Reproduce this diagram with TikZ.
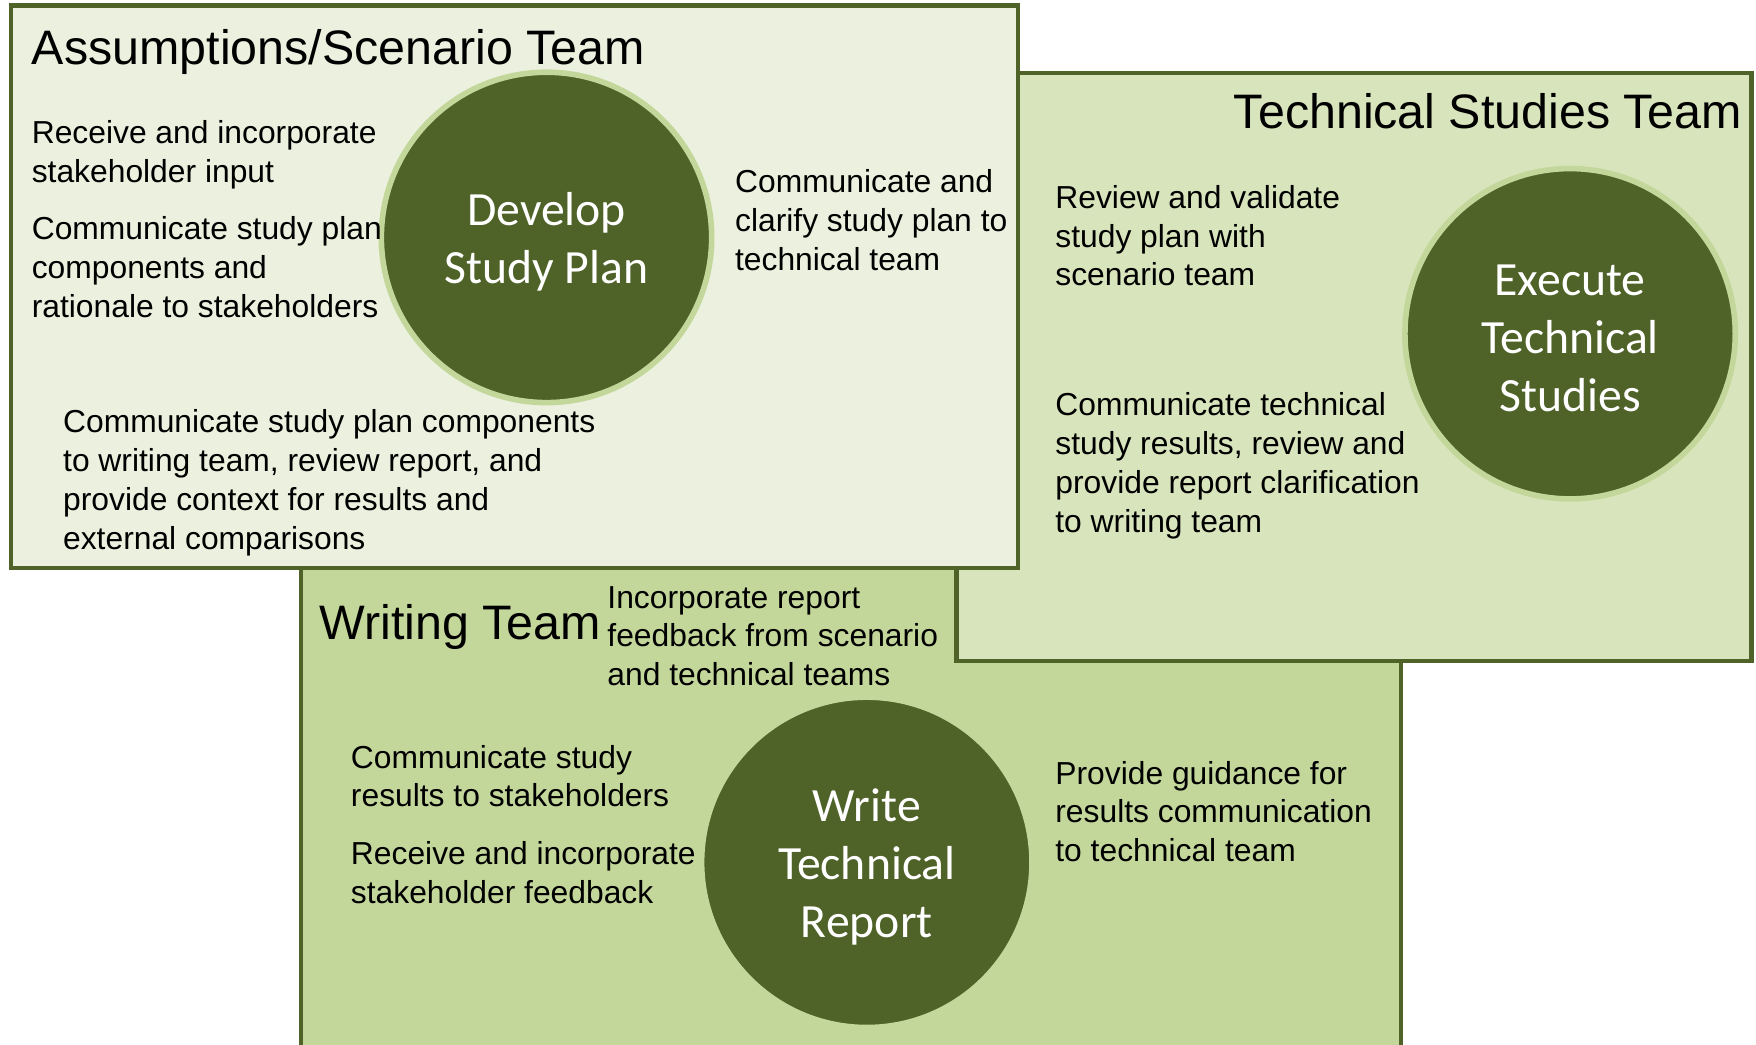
\documentclass[tikz,border=0pt]{standalone}
\usepackage{fontspec}
\setmainfont{Liberation Sans}
\newfontfamily\circlefont{Carlito}
\usetikzlibrary{positioning}
\definecolor{olivedark}{HTML}{4F6228}
\definecolor{olivepale}{HTML}{EBF1DE}
\definecolor{olivelight}{HTML}{D8E4BC}
\definecolor{olivemid}{HTML}{C4D79B}

\begin{document}
\begin{tikzpicture}[x=0.5pt,y=-0.5pt]
  \tikzstyle{team}=[rectangle,draw=olivedark,line width=2pt,inner sep=0pt]
  \tikzstyle{task}=[circle,fill=olivedark,draw=olivemid,line width=2.5pt,
                    minimum size=147.5pt,inner sep=0pt]
  \tikzstyle{tasktext}=[inner sep=0pt,text=white,align=center,yshift=-2pt,
                    font=\circlefont\fontsize{21.3}{26}\selectfont]
  \tikzstyle{title}=[inner sep=0pt,font=\fontsize{21.6}{25}\selectfont]
  \tikzstyle{duty}=[inner sep=0pt,anchor=west,align=left,
                    font=\fontsize{14.2}{17.3}\selectfont]

  \useasboundingbox (0,0) rectangle (1568,933);

  \node[team,fill=olivemid,  minimum width=491pt,  minimum height=247.5pt] (writing) at (760,752.5)  {};
  \node[team,fill=olivelight,minimum width=355pt,  minimum height=262.5pt] (tech)    at (1209,327.5) {};
  \node[team,fill=olivepale, minimum width=449.5pt,minimum height=251pt]   (scen)    at (459.5,256)  {};

  \node[task] (plan)   at (488,212)  {};
  \node[task] (study)  at (1402,298) {};
  \node[task] (report) at (774,770)  {};
  \node[tasktext] (plantext)   at (plan)   {Develop\\Study Plan};
  \node[tasktext] (studytext)  at (study)  {Execute\\Technical\\Studies};
  \node[tasktext] (reporttext) at (report) {Write\\Technical\\Report};

  \node[title,anchor=west] (scentitle)    at (28,46)    {Assumptions/Scenario Team};
  \node[title,anchor=east] (techtitle)    at (1556,99)  {Technical Studies Team};
  \node[title,anchor=west] (writingtitle) at (285,560)  {Writing Team};

  \node[duty] (s1) at (28,138)   {Receive and incorporate\\stakeholder input};
  \node[duty] (s2) at (28,238.5) {Communicate study plan\\components and\\rationale to stakeholders};
  \node[duty] (s3) at (656,196.5){Communicate and\\clarify study plan to\\technical team};
  \node[duty] (s4) at (56,431)   {Communicate study plan components\\to writing team, review report, and\\provide context for results and\\external comparisons};

  \node[duty] (t1) at (942,210.5) {Review and validate\\study plan with\\scenario team};
  \node[duty] (t2) at (942,416)   {Communicate technical\\study results, review and\\provide report clarification\\to writing team};

  \node[duty] (w1) at (542,568)   {Incorporate report\\feedback from scenario\\and technical teams};
  \node[duty] (w2) at (313,693)   {Communicate study\\results to stakeholders};
  \node[duty] (w3) at (313,779)   {Receive and incorporate\\stakeholder feedback};
  \node[duty] (w4) at (942,724.5) {Provide guidance for\\results communication\\to technical team};
\end{tikzpicture}
\end{document}
